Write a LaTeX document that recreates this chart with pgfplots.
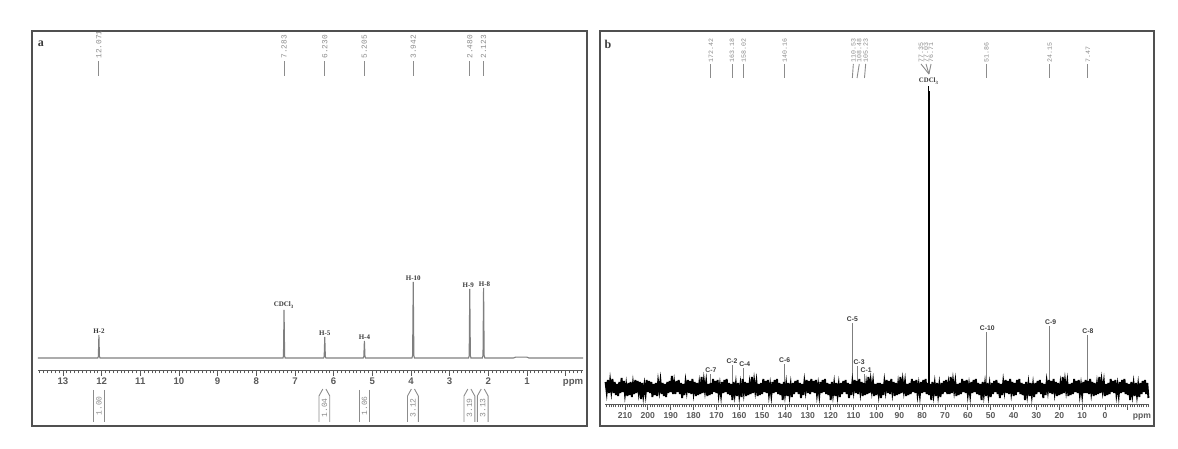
\documentclass[border=0pt]{standalone}
\usepackage{fontspec}
\setmainfont{Liberation Serif}
\newfontfamily\monof{Liberation Mono}
\newfontfamily\sansf{Liberation Sans}
\usepackage{pgfplots}
\pgfplotsset{compat=1.18}
\definecolor{framec}{HTML}{505050}
\definecolor{specc}{HTML}{7F7F7F}
\definecolor{labc}{HTML}{8C8C8C}
\definecolor{tickc}{HTML}{5A5A5A}
\definecolor{pkc}{HTML}{3A3A3A}
\pgfplotsset{
  nmr/.style={
    scale only axis, anchor=south west, clip=false, x dir=reverse,
    axis x line=bottom, axis y line=none,
    axis line style={-, draw=tickc, line width=0.5pt},
    tick style={draw=tickc, line width=0.4pt},
    major tick length=2.5pt, minor tick length=1.2pt, tick align=outside,
    /pgf/number format/assume math mode=true,
    extra x tick style={tick style={draw=none}},
  }
}
\begin{document}
\begin{tikzpicture}
\useasboundingbox (0,0) rectangle (589pt,224.5pt);
\draw[framec, line width=0.9pt] (16pt,11.5pt) rectangle (293.5pt,209pt);
\draw[framec, line width=0.9pt] (300pt,11.5pt) rectangle (577pt,209pt);
\node[font=\bfseries\fontsize{6}{6}\selectfont, text=pkc] at (20.5pt,202.5pt) {a};
\node[font=\bfseries\fontsize{6}{6}\selectfont, text=pkc] at (304pt,202.5pt) {b};

% ---------------- Panel a: 1H NMR ----------------
\begin{axis}[nmr, at={(19pt,39pt)}, width=272.5pt, height=170pt,
  xmin=-0.448, xmax=13.646, ymin=-13, ymax=327,
  xtick={0,1,...,13}, xticklabels={{},1,2,3,4,5,6,7,8,9,10,11,12,13},
  minor xtick={-0.4,-0.3,...,13.6},
  extra x ticks={-0.19}, extra x tick labels={ppm},
  xticklabel style={font=\sansf\bfseries\fontsize{4.8}{5}\selectfont, text=tickc, inner sep=0.8pt, text height=3.5pt, text depth=0pt},
]
\addplot[specc, line width=0.55pt] coordinates {
 (13.646,0) (12.10,0) (12.085,1.5) (12.071,23) (12.057,1.5) (12.04,0)
 (7.31,0) (7.298,2) (7.283,48) (7.268,2) (7.255,0)
 (6.26,0) (6.245,1.5) (6.230,21) (6.215,1.5) (6.20,0)
 (5.235,0) (5.22,1.5) (5.205,17) (5.19,1.5) (5.175,0)
 (3.975,0) (3.958,2.5) (3.942,76) (3.926,2.5) (3.91,0)
 (2.51,0) (2.495,2.5) (2.480,69) (2.465,2.5) (2.45,0)
 (2.155,0) (2.138,2.5) (2.123,70) (2.108,2.5) (2.09,0)
 (1.35,0) (1.30,0.8) (1.00,0.8) (0.95,0) (-0.448,0)
};
% top chemical-shift labels
\foreach \p/\t in {12.071/12.071, 7.283/7.283, 6.230/6.230, 5.205/5.205, 3.942/3.942, 2.480/2.480, 2.123/2.123}{
  \edef\tmp{\noexpand\draw[labc, line width=0.45pt] (axis cs:\p,282) -- (axis cs:\p,297);
  \noexpand\node[rotate=90, anchor=west, inner sep=0pt, font=\noexpand\monof\noexpand\fontsize{3.9}{4}\noexpand\selectfont, text=labc] at (axis cs:\p,299) {\t};}
  \tmp
}
% peak labels
\begin{scope}[every node/.style={anchor=south, inner sep=0.6pt, font=\bfseries\fontsize{3.5}{3.5}\selectfont, text=pkc}]
\node at (axis cs:12.071,23) {H-2};
\node at (axis cs:7.283,48) {CDCl\textsubscript{3}};
\node at (axis cs:6.230,21) {H-5};
\node at (axis cs:5.205,17) {H-4};
\node at (axis cs:3.942,76) {H-10};
\node at (axis cs:2.52,69) {H-9};
\node at (axis cs:2.10,70) {H-8};
\end{scope}
% integrals
\begin{scope}[labc, line width=0.45pt, every node/.style={rotate=90, inner sep=0pt, font=\monof\fontsize{4}{4}\selectfont, text=labc}]
\draw (axis cs:12.211,-32) -- (axis cs:12.211,-64);
\draw (axis cs:11.931,-32) -- (axis cs:11.931,-64);
\node at (axis cs:12.071,-48) {1.00};
\draw (axis cs:5.345,-32) -- (axis cs:5.345,-64);
\draw (axis cs:5.065,-32) -- (axis cs:5.065,-64);
\node at (axis cs:5.205,-48) {1.06};
\foreach \c/\v in {6.240/1.04, 3.950/3.12, 2.490/3.19, 2.145/3.13}{
  \edef\tmp{\noexpand\draw (axis cs:\c+0.14,-64) -- (axis cs:\c+0.14,-38) -- (axis cs:\c+0.04,-31);
  \noexpand\draw (axis cs:\c-0.14,-64) -- (axis cs:\c-0.14,-38) -- (axis cs:\c-0.04,-31);
  \noexpand\node at (axis cs:\c,-50) {\v};}
  \tmp
}
\end{scope}
\end{axis}

% ---------------- Panel b: 13C NMR ----------------
\begin{axis}[nmr, at={(302.5pt,22pt)}, width=272pt, height=187pt,
  xmin=-19.25, xmax=218.75, ymin=-17, ymax=357,
  xtick={-10,0,10,...,210},
  xticklabels={{},0,10,20,30,40,50,60,70,80,90,100,110,120,130,140,150,160,170,180,190,200,210},
  minor xtick={-19,-18,...,218},
  extra x ticks={-16.2}, extra x tick labels={ppm},
  xticklabel style={font=\sansf\bfseries\fontsize{4.3}{4.5}\selectfont, text=tickc, inner sep=0.8pt, text height=3.2pt, text depth=0pt},
]
% carbon peaks
\addplot[ycomb, no marks, specc, line width=0.5pt] coordinates {
 (172.42,14) (163.18,23) (158.02,20) (140.16,24) (110.53,65) (108.48,22) (105.23,14)
 (51.86,56) (24.15,62) (7.47,53)
};
% baseline noise
\addplot[black, line width=0.95pt] coordinates {
(218.5,6)(218,-4)(217.5,8)(217,-5)(216.5,7)(216,-3)(215.5,9)(215,-5)(214.5,6)(214,-7)
(213.5,4)(213,-8)(212.5,6)(212,-5)(211.5,10)(211,-4)(210.5,7)(210,-6)(209.5,3)(209,-8)
(208.5,5)(208,-7)(207.5,6)(207,-9)(206.5,4)(206,-6)(205.5,8)(205,-5)(204.5,7)(204,-4)
(203.5,6)(203,-11)(202.5,5)(202,-7)(201.5,3)(201,-6)(200.5,8)(200,-4)(199.5,7)(199,-5)
(198.5,6)(198,-9)(197.5,4)(197,-7)(196.5,5)(196,-8)(195.5,6)(195,-3)(194.5,7)(194,-6)
(193.5,5)(193,-8)(192.5,4)(192,-9)(191.5,6)(191,-5)(190.5,7)(190,-4)(189.5,12)(189,-6)
(188.5,5)(188,-6)(187.5,7)(187,-4)(186.5,8)(186,-6)(185.5,5)(185,-10)(184.5,4)(184,-7)
(183.5,6)(183,-3)(182.5,8)(182,-5)(181.5,7)(181,-6)(180.5,9)(180,-4)(179.5,6)(179,-8)
(178.5,5)(178,-7)(177.5,4)(177,-6)(176.5,11)(176,-5)(175.5,7)(175,-3)(174.5,6)(174,-8)
(173.5,4)(173,-7)(172.5,5)(172,-6)(171.5,9)(171,-4)(170.5,7)(170,-5)(169.5,8)(169,-6)
(168.5,3)(168,-7)(167.5,6)(167,-5)(166.5,8)(166,-4)(165.5,9)(165,-6)(164.5,5)(164,-7)
(163.5,4)(163,-12)(162.5,6)(162,-6)(161.5,4)(161,-8)(160.5,5)(160,-7)(159.5,3)(159,-9)
(158.5,9)(158,-4)(157.5,6)(157,-8)(156.5,5)(156,-7)(155.5,4)(155,-6)(154.5,11)(154,-5)
(153.5,7)(153,-3)(152.5,6)(152,-8)(151.5,4)(151,-7)(150.5,5)(150,-6)(149.5,9)(149,-4)
(148.5,7)(148,-5)(147.5,8)(147,-6)(146.5,3)(146,-7)(145.5,6)(145,-5)(144.5,8)(144,-4)
(143.5,9)(143,-6)(142.5,5)(142,-7)(141.5,4)(141,-12)(140.5,6)(140,-6)(139.5,4)(139,-8)
(138.5,5)(138,-7)(137.5,3)(137,-9)(136.5,5)(136,-6)(135.5,7)(135,-4)(134.5,8)(134,-6)
(133.5,5)(133,-10)(132.5,4)(132,-7)(131.5,6)(131,-3)(130.5,8)(130,-5)(129.5,7)(129,-6)
(128.5,9)(128,-4)(127.5,7)(127,-5)(126.5,8)(126,-6)(125.5,3)(125,-7)(124.5,6)(124,-5)
(123.5,8)(123,-4)(122.5,9)(122,-6)(121.5,5)(121,-7)(120.5,4)(120,-12)(119.5,6)(119,-6)
(118.5,4)(118,-8)(117.5,5)(117,-7)(116.5,3)(116,-9)(115.5,5)(115,-6)(114.5,7)(114,-4)
(113.5,8)(113,-6)(112.5,5)(112,-10)(111.5,4)(111,-7)(110.5,6)(110,-3)(109.5,8)(109,-5)
(108.5,7)(108,-6)(107.5,9)(107,-4)(106.5,6)(106,-8)(105.5,5)(105,-7)(104.5,4)(104,-6)
(103.5,11)(103,-5)(102.5,7)(102,-3)(101.5,6)(101,-8)(100.5,4)(100,-7)(99.5,5)(99,-6)
(98.5,5)(98,-10)(97.5,4)(97,-7)(96.5,6)(96,-3)(95.5,8)(95,-5)(94.5,7)(94,-6)
(93.5,9)(93,-4)(92.5,6)(92,-8)(91.5,5)(91,-7)(90.5,4)(90,-6)(89.5,11)(89,-5)
(88.5,7)(88,-3)(87.5,6)(87,-8)(86.5,4)(86,-7)(85.5,5)(85,-6)(84.5,9)(84,-4)
(83.5,7)(83,-5)(82.5,8)(82,-6)(81.5,3)(81,-7)(80.5,6)(80,-5)(79.5,8)(79,-4)
(78.5,9)(78,-6)(77.5,5)(77,-7)(76.5,4)(76,-12)(75.5,6)(75,-6)(74.5,4)(74,-8)
(73.5,5)(73,-7)(72.5,3)(72,-9)(71.5,5)(71,-6)(70.5,7)(70,-4)(69.5,8)(69,-6)
(68.5,4)(68,-6)(67.5,11)(67,-5)(66.5,7)(66,-3)(65.5,6)(65,-8)(64.5,4)(64,-7)
(63.5,5)(63,-6)(62.5,9)(62,-4)(61.5,7)(61,-5)(60.5,8)(60,-6)(59.5,3)(59,-7)
(58.5,6)(58,-5)(57.5,8)(57,-4)(56.5,9)(56,-6)(55.5,5)(55,-7)(54.5,4)(54,-12)
(53.5,6)(53,-6)(52.5,4)(52,-8)(51.5,5)(51,-7)(50.5,3)(50,-9)(49.5,5)(49,-6)
(48.5,7)(48,-4)(47.5,8)(47,-6)(46.5,5)(46,-10)(45.5,4)(45,-7)(44.5,6)(44,-3)
(43.5,8)(43,-5)(42.5,7)(42,-6)(41.5,9)(41,-4)(40.5,6)(40,-8)(39.5,5)(39,-7)
(38.5,8)(38,-4)(37.5,9)(37,-6)(36.5,5)(36,-7)(35.5,4)(35,-12)(34.5,6)(34,-6)
(33.5,4)(33,-8)(32.5,5)(32,-7)(31.5,3)(31,-9)(30.5,5)(30,-6)(29.5,7)(29,-4)
(28.5,8)(28,-6)(27.5,5)(27,-10)(26.5,4)(26,-7)(25.5,6)(25,-3)(24.5,8)(24,-5)
(23.5,7)(23,-6)(22.5,9)(22,-4)(21.5,6)(21,-8)(20.5,5)(20,-7)(19.5,4)(19,-6)
(18.5,11)(18,-5)(17.5,7)(17,-3)(16.5,6)(16,-8)(15.5,4)(15,-7)(14.5,5)(14,-6)
(13.5,9)(13,-4)(12.5,7)(12,-5)(11.5,8)(11,-6)(10.5,3)(10,-7)(9.5,6)(9,-5)
(8.5,8)(8,-5)(7.5,7)(7,-6)(6.5,9)(6,-4)(5.5,6)(5,-8)(4.5,5)(4,-7)
(3.5,4)(3,-6)(2.5,11)(2,-5)(1.5,7)(1,-3)(0.5,6)(0,-8)(-0.5,4)(-1,-7)
(-1.5,5)(-2,-6)(-2.5,9)(-3,-4)(-3.5,7)(-4,-5)(-4.5,8)(-5,-6)(-5.5,3)(-6,-7)
(-6.5,6)(-7,-5)(-7.5,8)(-8,-4)(-8.5,9)(-9,-6)(-9.5,5)(-10,-7)(-10.5,4)(-11,-12)
(-11.5,6)(-12,-6)(-12.5,4)(-13,-8)(-13.5,5)(-14,-7)(-14.5,3)(-15,-9)(-15.5,5)(-16,-6)
(-16.5,7)(-17,-4)(-17.5,8)(-18,-6)(-18.5,5)(-19,-10)
};
% solvent peak
\addplot[ycomb, no marks, black, line width=0.5pt] coordinates {(77.35,298) (77.03,302) (76.71,297)};
% top chemical-shift labels
\foreach \p/\q/\t in {172.42/172.42/172.42, 163.18/163.18/163.18, 158.02/158.02/158.02, 140.16/140.16/140.16,
  110.1/110.53/110.53, 107.5/108.48/108.48, 104.7/105.23/105.23,
  51.86/51.86/51.86, 24.15/24.15/24.15, 7.47/7.47/7.47}{
  \edef\tmp{\noexpand\draw[labc, line width=0.45pt] (axis cs:\q,310) -- (axis cs:\p,324);
  \noexpand\node[rotate=90, anchor=west, inner sep=0pt, font=\noexpand\monof\noexpand\fontsize{3.3}{3.5}\noexpand\selectfont, text=labc] at (axis cs:\p,325.5) {\t};}
  \tmp
}
\foreach \p/\t in {80.5/77.35, 78.3/77.03, 76.1/76.71}{
  \edef\tmp{\noexpand\draw[labc, line width=0.45pt] (axis cs:77.03,314) -- (axis cs:\p,324);
  \noexpand\node[rotate=90, anchor=west, inner sep=0pt, font=\noexpand\monof\noexpand\fontsize{3.3}{3.5}\noexpand\selectfont, text=labc] at (axis cs:\p,325.5) {\t};}
  \tmp
}
% peak labels
\begin{scope}[every node/.style={anchor=south, inner sep=0.6pt, font=\sansf\bfseries\fontsize{3.4}{3.4}\selectfont, text=pkc}]
\node at (axis cs:172.42,14) {C-7};
\node at (axis cs:163.18,23) {C-2};
\node at (axis cs:157.6,20) {C-4};
\node at (axis cs:140.16,24) {C-6};
\node at (axis cs:110.53,65) {C-5};
\node at (axis cs:107.6,22) {C-3};
\node at (axis cs:104.5,14) {C-1};
\node[font=\bfseries\fontsize{3.4}{3.4}\selectfont] at (axis cs:77.03,302) {CDCl\textsubscript{3}};
\node at (axis cs:51.5,56) {C-10};
\node at (axis cs:23.8,62) {C-9};
\node at (axis cs:7.47,53) {C-8};
\end{scope}
\end{axis}
\end{tikzpicture}
\end{document}
